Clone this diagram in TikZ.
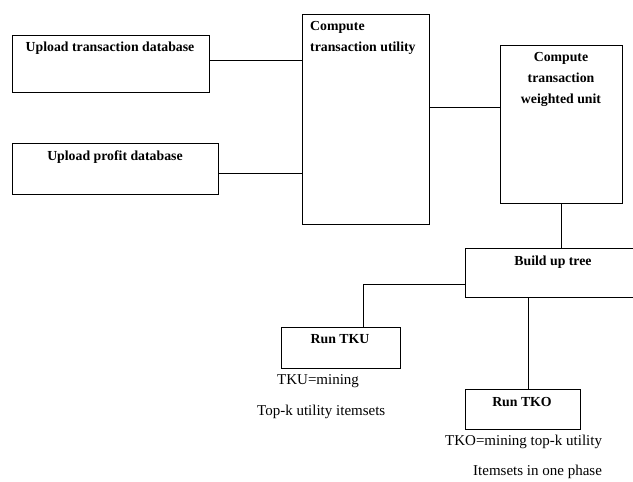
\documentclass[tikz,border=0pt]{standalone}
\usepackage{fontspec}
\setmainfont{Liberation Serif}
\begin{document}
\begin{tikzpicture}[x=1pt,y=-1pt,
  box/.style={draw, line width=0.9pt, inner sep=0pt},
  lbl/.style={font=\bfseries\fontsize{13.8}{21}\selectfont, inner sep=0pt},
  note/.style={font=\fontsize{15}{21}\selectfont, inner sep=0pt},
  conn/.style={line width=0.9pt}]
\clip (0,0) rectangle (633,482);
\fill[white] (0,0) rectangle (633,482);
% boxes
\node[box, minimum width=197pt, minimum height=57pt] (b1) at (110.5,63.5) {};
\node[box, minimum width=206pt, minimum height=51pt] (b2) at (115,168.5) {};
\node[box, minimum width=127pt, minimum height=210pt] (b3) at (365.5,119) {};
\node[box, minimum width=122pt, minimum height=158pt] (b4) at (561,124) {};
\node[box, minimum width=210pt, minimum height=49pt] (b5) at (570,272.5) {};
\node[box, minimum width=119pt, minimum height=41pt] (b6) at (340.5,347.5) {};
\node[box, minimum width=115pt, minimum height=40pt] (b7) at (522.5,409) {};
% labels
\node[lbl] (t1) at (110,48) {Upload transaction database};
\node[lbl] (t2) at (115,157) {Upload profit database};
\node[lbl, align=left, anchor=north west] (t3) at (310,21) {Compute\\transaction utility};
\node[lbl, align=center, anchor=north] (t4) at (561,52) {Compute\\transaction\\weighted unit};
\node[lbl] (t5) at (553,262) {Build up tree};
\node[lbl] (t6) at (340,339) {Run TKU};
\node[lbl] (t7) at (522,402) {Run TKO};
% notes
\node[note, anchor=west] (n1) at (277,381) {TKU=mining};
\node[note, anchor=west] (n2) at (257,412) {Top-k utility itemsets};
\node[note, anchor=west] (n3) at (445,442) {TKO=mining top-k utility};
\node[note, anchor=west] (n4) at (473,472) {Itemsets in one phase};
% connectors
\coordinate (c1) at (b1.east |- 0,60);
\draw[conn] (c1) -- (c1 -| b3.west);
\coordinate (c2) at (b2.east |- 0,173.5);
\draw[conn] (c2) -- (c2 -| b3.west);
\coordinate (c3) at (b3.east |- 0,107.5);
\draw[conn] (c3) -- (c3 -| b4.west);
\coordinate (c4) at (b4.south);
\draw[conn] (c4) -- (c4 |- b5.north);
\coordinate (c5) at (b5.west |- 0,284);
\draw[conn] (c5) -| (b6.north -| 363,0);
\coordinate (c6) at (b5.south -| 528,0);
\draw[conn] (c6) -- (c6 |- b7.north);
\end{tikzpicture}
\end{document}
